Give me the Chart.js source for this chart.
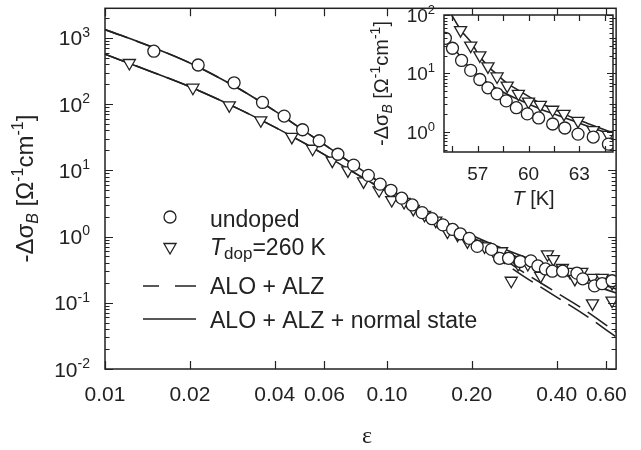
<!DOCTYPE html>
<html>
<head>
<meta charset="utf-8">
<script src="https://cdn.jsdelivr.net/npm/chart.js@4.4.0/dist/chart.umd.min.js"></script>
<style>
  html, body { margin: 0; padding: 0; background: #fff; }
  #wrap { position: relative; width: 641px; height: 450px; }
  #main { position: absolute; left: 0; top: 0; }
  #inset { position: absolute; left: 350px; top: 0; }
</style>
</head>
<body>
<div id="wrap">
  <canvas id="main" width="641" height="450"></canvas>
  <canvas id="inset" width="280" height="215"></canvas>
</div>
<script>
// main panel: reduced temperature eps vs -delta sigma_B
const undopedEps = [0.0149, 0.0214, 0.0287, 0.0362, 0.0432, 0.0502, 0.0575, 0.067, 0.0762, 0.0859, 0.0946, 0.1033, 0.1128, 0.123, 0.1333, 0.1445, 0.158, 0.171, 0.182, 0.196, 0.209, 0.235, 0.251, 0.27, 0.297, 0.324, 0.343, 0.365, 0.386, 0.42, 0.472, 0.495, 0.545, 0.58, 0.629];
const undopedSig = [630, 390, 210, 106, 66, 41, 28, 17.5, 12.0, 8.4, 6.2, 5.0, 3.8, 3.0, 2.3, 1.86, 1.5, 1.28, 1.1, 0.94, 0.71, 0.64, 0.47, 0.47, 0.42, 0.43, 0.36, 0.324, 0.30, 0.30, 0.28, 0.23, 0.18, 0.194, 0.215];
const dopedEps = [0.0122, 0.0205, 0.0276, 0.0357, 0.046, 0.0545, 0.064, 0.0727, 0.0826, 0.0938, 0.104, 0.115, 0.124, 0.136, 0.149, 0.164, 0.178, 0.193, 0.209, 0.222, 0.239, 0.255, 0.276, 0.292, 0.316, 0.351, 0.371, 0.389, 0.419, 0.446, 0.464, 0.491, 0.536, 0.536, 0.58, 0.629, 0.629];
const dopedSig = [418, 177, 96, 57, 32, 21.2, 14.0, 10.0, 6.8, 5.0, 3.56, 3.33, 2.62, 2.13, 1.74, 1.19, 1.07, 0.845, 0.76, 0.71, 0.60, 0.60, 0.215, 0.385, 0.385, 0.255, 0.54, 0.456, 0.335, 0.293, 0.23, 0.293, 0.238, 0.098, 0.238, 0.20, 0.108];

// fit curves
const fitEps = [0.01, 0.015, 0.02, 0.03, 0.04, 0.05, 0.06, 0.07, 0.08, 0.1, 0.12, 0.15, 0.2, 0.25, 0.3, 0.4, 0.5, 0.65];
const fullUndoped = [1338, 703, 419, 169, 78.9, 41.6, 24.5, 15.6, 10.6, 5.57, 3.37, 1.94, 1.045, 0.693, 0.511, 0.327, 0.234, 0.161];
const fullDoped = [568, 296, 183, 83.4, 45, 26.9, 17.3, 11.6, 8.26, 4.77, 3.06, 1.80, 0.97, 0.632, 0.464, 0.292, 0.207, 0.14];
const aloUndoped = [1338, 703, 419, 169, 78.9, 41.6, 24.5, 15.6, 10.6, 5.57, 3.37, 1.88, 0.875, 0.506, 0.303, 0.142, 0.079, 0.036];
const aloDoped = [568, 296, 183, 83.4, 45, 26.9, 17.3, 11.6, 8.26, 4.77, 3.06, 1.74, 0.803, 0.449, 0.264, 0.122, 0.067, 0.0305];

const xTicks = [0.01, 0.02, 0.04, 0.06, 0.1, 0.2, 0.4, 0.6];
const xTickLabels = ['0.01', '0.02', '0.04', '0.06', '0.10', '0.20', '0.40', '0.60'];
const yExps = [-2, -1, 0, 1, 2, 3];

// inset: T vs -delta sigma_B
const insetTUndoped = [55.08, 55.5, 56.04, 56.58, 57.12, 57.6, 58.14, 58.68, 59.28, 59.93, 60.6, 61.43, 62.15, 62.93, 63.83, 64.73];
const insetUndoped = [40, 27, 16.7, 11.3, 7.9, 5.7, 4.5, 3.4, 2.6, 2.04, 1.74, 1.37, 1.17, 0.92, 0.82, 0.62];
const insetTDoped = [55.98, 56.58, 57.12, 57.6, 58.14, 58.74, 59.4, 60.0, 60.7, 61.43, 62.1, 62.93, 63.83, 64.73];
const insetDoped = [55, 30, 20.4, 13.2, 8.9, 6.2, 4.5, 3.3, 2.9, 2.4, 2.04, 1.55, 1.08, 0.89];
const insetFitTUndoped = [55, 55.68, 56.64, 57.66, 58.68, 59.6, 60.65, 61.6, 62.63, 63.8, 65];
const insetFitUndoped = [45, 25, 11.3, 6.7, 4.5, 3.4, 2.5, 1.99, 1.55, 1.17, 0.89];
const insetFitTDoped = [55.45, 56, 56.64, 57, 57.66, 58, 58.68, 59.5, 60.65, 61.5, 62.63, 63.5, 65];
const insetFitDoped = [100, 55, 33, 22, 12.7, 10.5, 7.0, 5.0, 3.16, 2.45, 1.74, 1.40, 0.96];

const insetXTicks = [55.5, 57, 58.5, 60, 61.5, 63, 64.5];
const insetXLabels = [57, 60, 63];
const insetYExps = [0, 1, 2];

const INK = '#222';
const FONT = '"Liberation Sans", Arial, Helvetica, sans-serif';

function pts(xs, ys) {
    return xs.map((x, i) => ({ x: x, y: ys[i] }));
}

// draw a row of text pieces with their own size/style/offset
function drawRuns(ctx, runs, x, y, align) {
    let w = 0;
    runs.forEach(r => {
        ctx.font = (r.style || 'normal') + ' ' + r.size + 'px ' + (r.family || FONT);
        r.w = ctx.measureText(r.t).width;
        w += r.w;
    });
    let cx = align === 'center' ? x - w / 2 : (align === 'right' ? x - w : x);
    runs.forEach(r => {
        ctx.font = (r.style || 'normal') + ' ' + r.size + 'px ' + (r.family || FONT);
        ctx.fillText(r.t, cx, y + (r.dy || 0));
        cx += r.w;
    });
}

function logTicks(exps, min, max) {
    const out = [];
    exps.forEach(e => {
        for (let m = 1; m < 10; m++) {
            const v = m * Math.pow(10, e);
            if (v >= min && v <= max) out.push({ v: v, major: m === 1 });
        }
    });
    // minor ticks of the decade below the lowest label
    for (let m = 2; m < 10; m++) {
        const v = m * Math.pow(10, exps[0] - 1);
        if (v >= min && v <= max) out.push({ v: v, major: false });
    }
    return out;
}

// box, inward ticks and superscript y labels
function framePlugin(cfg) {
    return {
        id: 'frame',
        beforeDatasetsDraw(chart) {
            if (!cfg.fill) return;
            const { ctx, chartArea: a } = chart;
            ctx.save();
            ctx.fillStyle = '#fff';
            ctx.fillRect(a.left, a.top, a.right - a.left, a.bottom - a.top);
            ctx.restore();
        },
        afterDraw(chart) {
            const { ctx, chartArea: a, scales: { x, y } } = chart;
            ctx.save();
            ctx.strokeStyle = INK;
            ctx.lineWidth = 1.5;
            ctx.strokeRect(a.left, a.top, a.right - a.left, a.bottom - a.top);
            ctx.beginPath();
            cfg.xTicks.forEach(v => {
                const px = Math.round(x.getPixelForValue(v)) + 0.5;
                ctx.moveTo(px, a.bottom); ctx.lineTo(px, a.bottom - cfg.major);
                ctx.moveTo(px, a.top); ctx.lineTo(px, a.top + cfg.major);
            });
            logTicks(cfg.yExps, y.min, y.max).forEach(t => {
                const py = Math.round(y.getPixelForValue(t.v)) + 0.5;
                const len = t.major ? cfg.major : cfg.minor;
                ctx.moveTo(a.left, py); ctx.lineTo(a.left + len, py);
                ctx.moveTo(a.right, py); ctx.lineTo(a.right - len, py);
            });
            ctx.lineWidth = 1.2;
            ctx.stroke();

            ctx.fillStyle = INK;
            ctx.textBaseline = 'alphabetic';
            cfg.yExps.forEach(e => {
                const py = y.getPixelForValue(Math.pow(10, e));
                drawRuns(ctx, [
                    { t: '10', size: cfg.fs },
                    { t: String(e), size: Math.round(cfg.fs * 0.68), dy: -cfg.fs * 0.42 }
                ], a.left - cfg.labelGap, py + cfg.fs * 0.36, 'right');
            });

            // rotated y title
            ctx.save();
            ctx.translate(cfg.titleX, (a.top + a.bottom) / 2);
            ctx.rotate(-Math.PI / 2);
            const s = cfg.titleSize, ss = Math.round(cfg.titleSize * 0.68);
            drawRuns(ctx, [
                { t: '-\u0394\u03c3', size: s },
                { t: 'B', size: ss, style: 'italic', dy: s * 0.22 },
                { t: ' [\u03a9', size: s },
                { t: '-1', size: ss, dy: -s * 0.42 },
                { t: 'cm', size: s },
                { t: '-1', size: ss, dy: -s * 0.42 },
                { t: ']', size: s }
            ], 0, 0, 'center');
            ctx.restore();

            if (cfg.extra) cfg.extra(chart, ctx);
            ctx.restore();
        }
    };
}

function markerSet(label, xs, ys, style, r) {
    return {
        label: label, data: pts(xs, ys), showLine: false,
        pointStyle: style, rotation: style === 'triangle' ? 180 : 0,
        pointRadius: r, pointBorderWidth: 1.3,
        pointBorderColor: INK, pointBackgroundColor: '#fff', order: 0
    };
}

function lineSet(label, xs, ys, dash) {
    return {
        label: label, data: pts(xs, ys), showLine: true,
        borderColor: INK, borderWidth: 1.6, borderDash: dash || [],
        pointRadius: 0, cubicInterpolationMode: 'monotone', order: dash ? 2 : 1
    };
}

function drawLegend(chart, ctx) {
    const h = Chart.helpers;
    ctx.strokeStyle = INK;
    ctx.fillStyle = '#fff';
    ctx.lineWidth = 1.3;
    h.drawPoint(ctx, { pointStyle: 'circle', radius: 6, rotation: 0, borderWidth: 1.3 }, 170, 217);
    h.drawPoint(ctx, { pointStyle: 'triangle', radius: 7, rotation: 180, borderWidth: 1.3 }, 170, 247);
    ctx.lineWidth = 1.6;
    ctx.beginPath();
    ctx.moveTo(143, 286); ctx.lineTo(159, 286);
    ctx.moveTo(175, 286); ctx.lineTo(196, 286);
    ctx.moveTo(143, 319); ctx.lineTo(196, 319);
    ctx.stroke();

    ctx.fillStyle = INK;
    drawRuns(ctx, [{ t: 'undoped', size: 23 }], 210, 227, 'left');
    drawRuns(ctx, [
        { t: 'T', size: 23, style: 'italic' },
        { t: 'dop', size: 17, dy: 4 },
        { t: '=260 K', size: 23 }
    ], 210, 255, 'left');
    drawRuns(ctx, [{ t: 'ALO + ALZ', size: 23 }], 210, 294, 'left');
    drawRuns(ctx, [{ t: 'ALO + ALZ + normal state', size: 23 }], 210, 328, 'left');

    drawRuns(ctx, [{ t: '\u03b5', size: 24, family: '"Liberation Serif", "Times New Roman", serif' }], 367, 443, 'center');
}

new Chart(document.getElementById('main'), {
    type: 'scatter',
    data: {
        datasets: [
            markerSet('undoped', undopedEps, undopedSig, 'circle', 6),
            markerSet('Tdop=260 K', dopedEps, dopedSig, 'triangle', 7),
            lineSet('ALO + ALZ', fitEps, aloUndoped, [24, 9]),
            lineSet('ALO + ALZ', fitEps, aloDoped, [24, 9]),
            lineSet('ALO + ALZ + normal state', fitEps, fullUndoped),
            lineSet('ALO + ALZ + normal state', fitEps, fullDoped)
        ]
    },
    options: {
        responsive: false,
        animation: false,
        layout: { padding: { top: 3, right: 13, left: 0, bottom: 0 } },
        plugins: { legend: { display: false }, tooltip: { enabled: false } },
        scales: {
            x: {
                type: 'logarithmic', min: 0.01, max: 0.65,
                grid: { display: false, drawTicks: false }, border: { display: false },
                afterBuildTicks: s => { s.ticks = xTicks.map(v => ({ value: v })); },
                afterFit: s => { s.height = 81; },
                ticks: {
                    autoSkip: false, maxRotation: 0, minRotation: 0, padding: 14,
                    color: INK, font: { family: FONT, size: 21 },
                    callback: (v, i) => xTickLabels[i]
                }
            },
            y: {
                type: 'logarithmic', min: 0.01, max: 2800,
                grid: { display: false, drawTicks: false }, border: { display: false },
                ticks: { display: false },
                afterFit: s => { s.width = 105; }
            }
        }
    },
    plugins: [framePlugin({
        xTicks: xTicks, yExps: yExps, major: 8, minor: 4.5,
        fs: 21, labelGap: 15, titleX: 33, titleSize: 24, extra: drawLegend
    })]
});

function drawInsetTitle(chart, ctx) {
    const a = chart.chartArea;
    ctx.fillStyle = INK;
    drawRuns(ctx, [
        { t: 'T', size: 20, style: 'italic' },
        { t: ' [K]', size: 20 }
    ], (a.left + a.right) / 2 + 5, 205, 'center');
}

new Chart(document.getElementById('inset'), {
    type: 'scatter',
    data: {
        datasets: [
            markerSet('undoped', insetTUndoped, insetUndoped, 'circle', 6),
            markerSet('Tdop=260 K', insetTDoped, insetDoped, 'triangle', 7),
            lineSet('fit undoped', insetFitTUndoped, insetFitUndoped),
            lineSet('fit doped', insetFitTDoped, insetFitDoped)
        ]
    },
    options: {
        responsive: false,
        animation: false,
        layout: { padding: { top: 15, right: 17, left: 0, bottom: 0 } },
        plugins: { legend: { display: false }, tooltip: { enabled: false } },
        scales: {
            x: {
                type: 'linear', min: 55, max: 65,
                grid: { display: false, drawTicks: false }, border: { display: false },
                afterBuildTicks: s => { s.ticks = insetXLabels.map(v => ({ value: v })); },
                afterFit: s => { s.height = 63; },
                ticks: {
                    autoSkip: false, maxRotation: 0, minRotation: 0, padding: 11,
                    color: INK, font: { family: FONT, size: 19 },
                    callback: v => String(v)
                }
            },
            y: {
                type: 'logarithmic', min: 0.455, max: 100,
                grid: { display: false, drawTicks: false }, border: { display: false },
                ticks: { display: false },
                afterFit: s => { s.width = 94; }
            }
        }
    },
    plugins: [framePlugin({
        fill: true, xTicks: insetXTicks, yExps: insetYExps, major: 6, minor: 3.5,
        fs: 19, labelGap: 9, titleX: 38, titleSize: 20, extra: drawInsetTitle
    })]
});
</script>
</body>
</html>
